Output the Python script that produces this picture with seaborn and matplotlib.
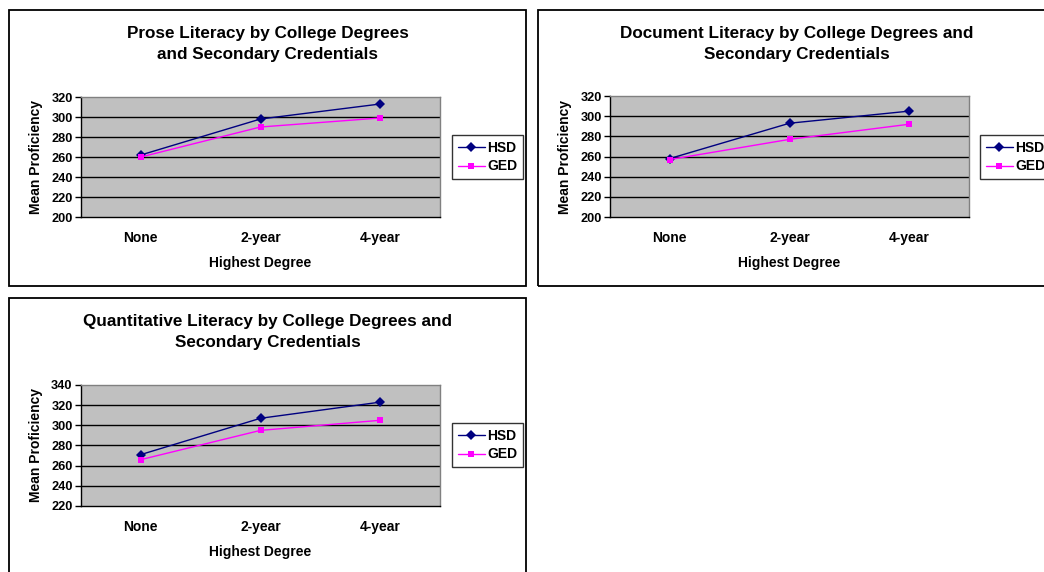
import matplotlib
matplotlib.use("Agg")
import matplotlib.pyplot as plt
from matplotlib.patches import Rectangle
import seaborn as sns
import pandas as pd

# Literacy means by highest college degree, split by secondary credential
degrees = ["None", "2-year", "4-year"]
series_names = ["HSD", "GED"]

prose_hsd = [262, 298, 313]
prose_ged = [260, 290, 299]
document_hsd = [258, 293, 305]
document_ged = [257, 277, 292]
quant_hsd = [271, 307, 323]
quant_ged = [266, 295, 305]

prose_ticks = [200, 220, 240, 260, 280, 300, 320]
document_ticks = [200, 220, 240, 260, 280, 300, 320]
quant_ticks = [220, 240, 260, 280, 300, 320, 340]

prose_title = "Prose Literacy by College Degrees\nand Secondary Credentials"
document_title = "Document Literacy by College Degrees and\nSecondary Credentials"
quant_title = "Quantitative Literacy by College Degrees and\nSecondary Credentials"

x_label = "Highest Degree"
y_label = "Mean Proficiency"

sns.set_theme(style="white")
plt.rcParams["font.family"] = ["Liberation Sans", "DejaVu Sans"]
plt.rcParams["font.weight"] = "bold"
for key in ["text.color", "axes.labelcolor", "xtick.color", "ytick.color"]:
    plt.rcParams[key] = "black"

W, H = 1044, 572
fig = plt.figure(figsize=(W / 100, H / 100), dpi=100)
fig.patch.set_facecolor("white")

palette = {"HSD": "#000080", "GED": "#FF00FF"}
markers = {"HSD": "D", "GED": "s"}


def px_axes(x0, y0, x1, y1):
    return fig.add_axes([x0 / W, 1 - y1 / H, (x1 - x0) / W, (y1 - y0) / H])


def panel(box, area, title, hsd, ged, ticks, legend_xy):
    bx0, by0, bx1, by1 = box
    fig.patches.append(Rectangle((bx0 / W, 1 - by1 / H), (bx1 - bx0) / W, (by1 - by0) / H,
                                 transform=fig.transFigure, fill=False,
                                 edgecolor="black", linewidth=1.3, zorder=0))
    fig.text(((bx0 + bx1) / 2) / W, 1 - (by0 + 34) / H, title,
             ha="center", va="center", fontsize=12.3, fontweight="bold",
             linespacing=1.5, color="black")

    ax = px_axes(*area)
    df = pd.DataFrame({
        "degree": degrees * 2,
        "pos": list(range(len(degrees))) * 2,
        "value": hsd + ged,
        "series": [series_names[0]] * len(degrees) + [series_names[1]] * len(degrees),
    })
    sns.lineplot(data=df, x="pos", y="value", hue="series", style="series",
                 palette=palette, markers=markers, dashes=False, sort=False,
                 linewidth=1.0, markersize=5, markeredgewidth=0, ax=ax, zorder=5)

    ax.set_facecolor("#C0C0C0")
    ax.set_xlim(-0.5, len(degrees) - 0.5)
    ax.set_ylim(ticks[0], ticks[-1])
    ax.set_yticks(ticks)
    ax.set_yticklabels([str(t) for t in ticks], fontsize=9.2, fontweight="bold")
    ax.set_xticks(range(len(degrees)))
    ax.set_xticklabels(degrees, fontsize=10, fontweight="bold")
    ax.set_xticks([i - 0.5 for i in range(len(degrees) + 1)], minor=True)
    ax.tick_params(axis="x", which="major", length=0, pad=10)
    ax.tick_params(axis="x", which="minor", length=4, width=1, direction="out", color="black")
    ax.tick_params(axis="y", which="major", length=4, width=1, direction="out",
                   color="black", pad=2, left=True)
    for t in ticks[1:-1]:
        ax.axhline(t, color="black", linewidth=1.0, zorder=1)
    for side in ["top", "right"]:
        ax.spines[side].set_color("#808080")
        ax.spines[side].set_linewidth(1.0)
    for side in ["left", "bottom"]:
        ax.spines[side].set_color("black")
        ax.spines[side].set_linewidth(1.0)
    ax.set_xlabel(x_label, fontsize=10, fontweight="bold", labelpad=8)
    ax.set_ylabel(y_label, fontsize=10, fontweight="bold", labelpad=6)

    lx, ly = legend_xy
    leg = ax.legend(loc="center left", bbox_to_anchor=(lx / W, 1 - ly / H),
                    bbox_transform=fig.transFigure, frameon=True, fancybox=False,
                    prop={"size": 10, "weight": "bold"}, handlelength=2.0,
                    handletextpad=0.15, borderpad=0.4, labelspacing=0.35,
                    borderaxespad=0)
    leg.get_frame().set_edgecolor("black")
    leg.get_frame().set_linewidth(1.0)
    leg.get_frame().set_facecolor("white")
    return ax


panel((9, 10, 526, 286), (81, 97, 440, 217), prose_title,
      prose_hsd, prose_ged, prose_ticks, (452, 157))
panel((538, 10, 1055, 286), (610, 96, 969, 217), document_title,
      document_hsd, document_ged, document_ticks, (980, 157))
panel((9, 298, 526, 590), (81, 385, 440, 506), quant_title,
      quant_hsd, quant_ged, quant_ticks, (452, 445))

fig.savefig("out.png", dpi=100, facecolor="white")
